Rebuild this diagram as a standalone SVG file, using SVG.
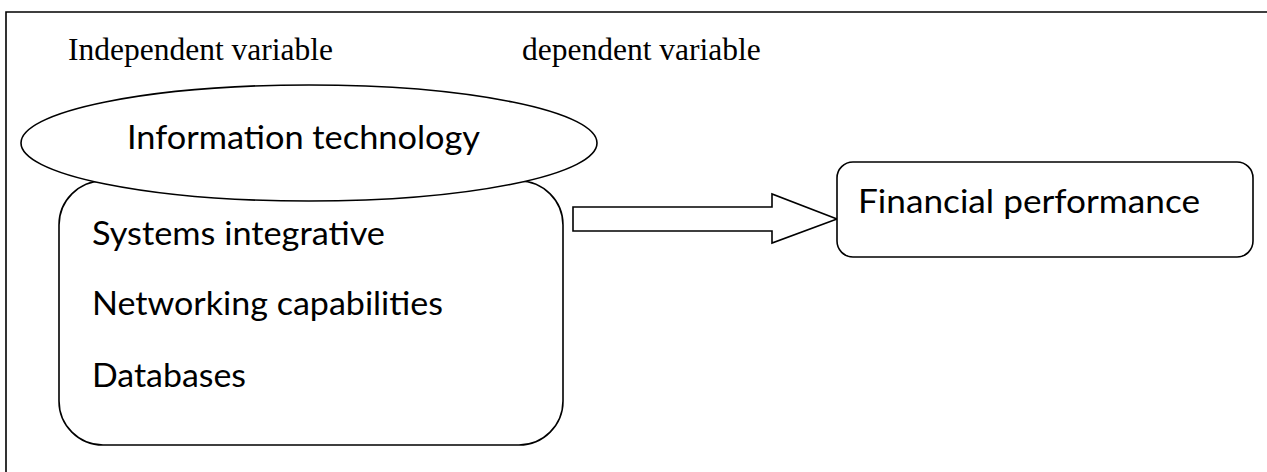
<svg xmlns="http://www.w3.org/2000/svg" width="1267" height="472" viewBox="0 0 1267 472">
<style>
.shape{fill:#fff;stroke:#000;stroke-width:1.6}
.frame{fill:none;stroke:#000;stroke-width:1.6}
.serif{font-family:"Liberation Serif","Times New Roman",serif;font-size:31.5px;fill:#000}
.sans{font-family:"Lato","Open Sans","Liberation Sans",sans-serif;font-size:33px;fill:#000}
</style>
<rect width="1267" height="472" fill="#fff"/>
<g id="frame">
<path class="frame" d="M6,472 V12 H1267"/>
</g>
<g id="labels">
<text class="serif" x="68" y="60">Independent variable</text>
<text class="serif" x="522" y="60">dependent variable</text>
</g>
<g id="it-dimensions">
<rect class="shape" x="59" y="181" width="504" height="264" rx="44" ry="44"/>
<text class="sans" x="92" y="245" textLength="293" lengthAdjust="spacingAndGlyphs">Systems integrative</text>
<text class="sans" x="92" y="315" textLength="351" lengthAdjust="spacingAndGlyphs">Networking capabilities</text>
<text class="sans" x="92" y="387" textLength="154" lengthAdjust="spacingAndGlyphs">Databases</text>
</g>
<g id="information-technology">
<ellipse class="shape" cx="309" cy="143" rx="288" ry="58"/>
<text class="sans" x="127" y="149" textLength="353" lengthAdjust="spacingAndGlyphs">Information technology</text>
</g>
<g id="connectors">
<polygon class="shape" points="573,207 772,207 772,194 837,219 772,243 772,231 573,231"/>
</g>
<g id="financial-performance">
<rect class="shape" x="837" y="162" width="416" height="95" rx="16" ry="16"/>
<text class="sans" x="858" y="213" textLength="342" lengthAdjust="spacingAndGlyphs">Financial performance</text>
</g>
</svg>
